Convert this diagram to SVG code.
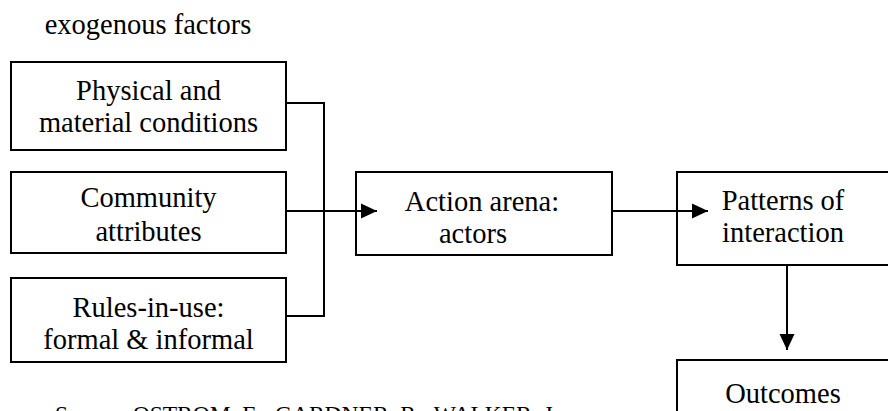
<svg xmlns="http://www.w3.org/2000/svg" width="888" height="411" viewBox="0 0 888 411">
<defs>
<style>
.box{fill:#fff;stroke:#000;stroke-width:2}
.t{font-family:"Liberation Serif","Times New Roman",serif;font-size:28.5px;fill:#000;text-anchor:middle}
.src{font-family:"Liberation Serif","Times New Roman",serif;font-size:23.5px;fill:#000}
.ln{fill:none;stroke:#000;stroke-width:2}
</style>
<marker id="ah" markerUnits="userSpaceOnUse" markerWidth="16" markerHeight="16" viewBox="0 0 16 16" refX="16" refY="8" orient="auto">
<path d="M0,0.5 L16,8 L0,15.5 Z" fill="#000"/>
</marker>
</defs>
<rect width="888" height="411" fill="#fff"/>
<text class="t" x="148" y="34">exogenous factors</text>
<g id="physical">
<rect class="box" x="11" y="62" width="275" height="88"/>
<text class="t" x="148.5" y="100">Physical and</text>
<text class="t" x="148.5" y="132">material conditions</text>
</g>
<g id="community">
<rect class="box" x="11" y="172" width="275" height="81"/>
<text class="t" x="148.5" y="207">Community</text>
<text class="t" x="148.5" y="241">attributes</text>
</g>
<g id="rules">
<rect class="box" x="11" y="278" width="275" height="84"/>
<text class="t" x="148.5" y="317">Rules-in-use:</text>
<text class="t" x="148.5" y="349">formal &amp; informal</text>
</g>
<g id="action">
<rect class="box" x="356" y="172" width="256" height="83"/>
<text class="t" x="482" y="211">Action arena:</text>
<text class="t" x="473" y="243">actors</text>
</g>
<g id="patterns">
<rect class="box" x="677" y="172" width="212" height="93"/>
<text class="t" x="783" y="210">Patterns of</text>
<text class="t" x="783" y="242">interaction</text>
</g>
<g id="outcomes">
<rect class="box" x="677" y="360" width="212" height="70"/>
<text class="t" x="783" y="403">Outcomes</text>
</g>
<g id="connectors">
<path class="ln" d="M286,103 H324 V316 H286"/>
<path class="ln" d="M286,211 H377" marker-end="url(#ah)"/>
<path class="ln" d="M612,211 H708" marker-end="url(#ah)"/>
<path class="ln" d="M787,265 V350" marker-end="url(#ah)"/>
</g>
<text class="src" x="55" y="422">Source: OSTROM, E.; GARDNER, R.; WALKER, J.</text>
</svg>
